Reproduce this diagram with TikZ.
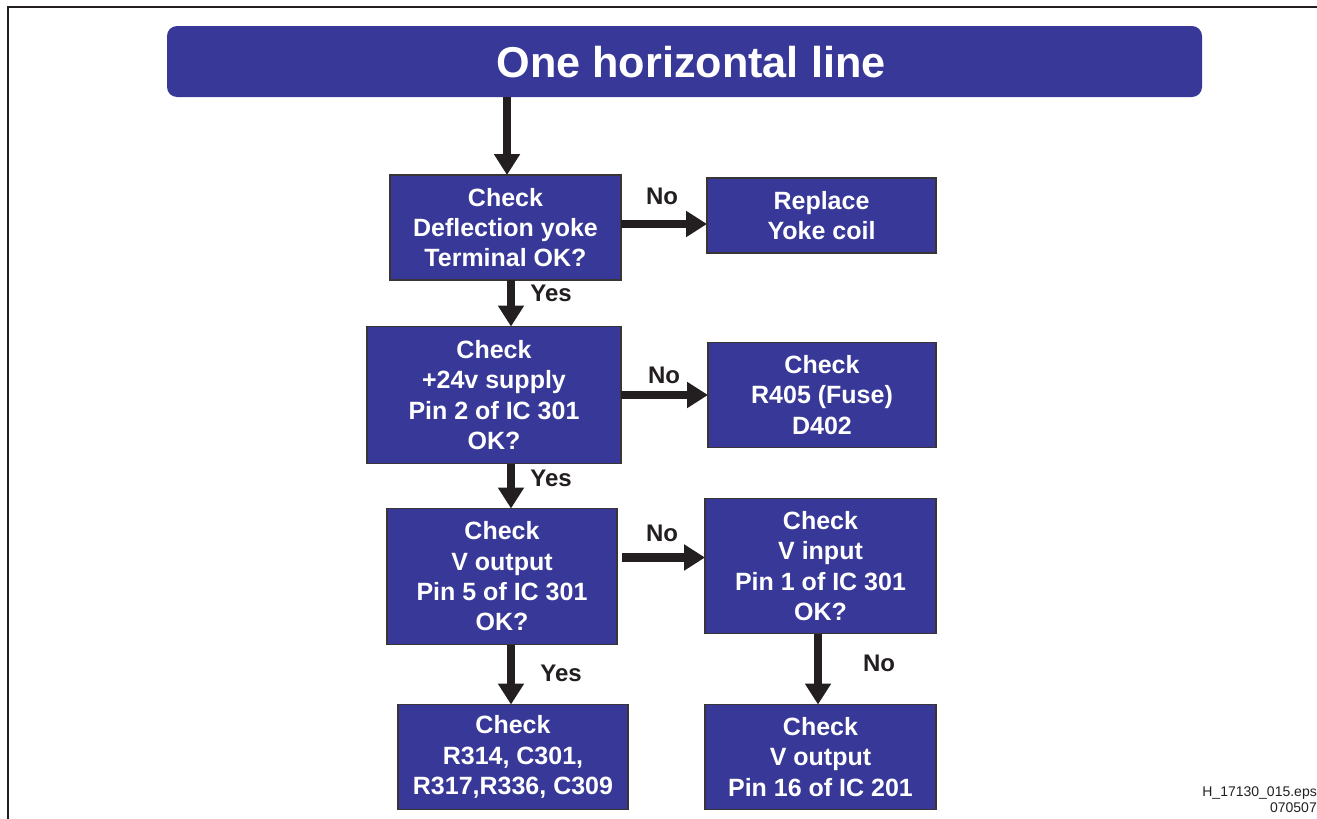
\documentclass[tikz,border=0pt]{standalone}
\usepackage{fontspec}
\setmainfont{Liberation Sans}
\usetikzlibrary{arrows.meta}
\definecolor{boxblue}{HTML}{373897}
\definecolor{ink}{HTML}{231F20}
\begin{document}
\begin{tikzpicture}[x=1pt,y=-1pt,
  box/.style={draw=ink!90,line width=1.5pt,fill=boxblue,text=white,inner sep=0pt,outer sep=0pt,
    align=center,font=\bfseries\fontsize{25}{30.3}\selectfont},
  arr/.style={draw=ink,line width=8.5pt,-{Triangle[width=25pt,length=21pt]}},
  lab/.style={font=\bfseries\fontsize{24}{28}\selectfont,text=ink,inner sep=0pt}]
\useasboundingbox (0,0) rectangle (1317,819);
\draw[ink,line width=2.5pt] (8,819) -- (8,7) -- (1317,7);
\node[fill=boxblue,rounded corners=10pt,minimum width=1035pt,minimum height=71pt,inner sep=0pt] (title) at (684.5,61.5) {};
\node[text=white,font=\bfseries\fontsize{43.2}{50}\selectfont,inner sep=0pt] (tt) at (691,62) {One horizontal line};
\node[box,minimum width=231pt,minimum height=105pt] (b1) at (505.5,227.5) {Check\\Deflection yoke\\Terminal OK?};
\node[box,minimum width=229pt,minimum height=75pt] (r1) at (821.5,215.5) {Replace\\Yoke coil};
\node[box,minimum width=254pt,minimum height=137pt] (b2) at (494,395) {Check\\+24v supply\\Pin 2 of IC 301\\OK?};
\node[box,minimum width=228pt,minimum height=105pt] (r2) at (822,395) {Check\\R405 (Fuse)\\D402};
\node[box,minimum width=230pt,minimum height=136pt] (b3) at (502,576.5) {Check\\V output\\Pin 5 of IC 301\\OK?};
\node[box,minimum width=231pt,minimum height=135pt] (r3) at (820.5,566) {Check\\V input\\Pin 1 of IC 301\\OK?};
\node[box,minimum width=230pt,minimum height=105pt] (b4) at (513,757) {Check\\R314, C301,\\R317,R336, C309};
\node[box,minimum width=231pt,minimum height=105pt] (r4) at (820.5,757) {Check\\V output\\Pin 16 of IC 201};
% connectors
\draw[arr] ([xshift=1.5pt]b1.north |- title.south) -- ([xshift=1.5pt]b1.north);
\draw[arr] ([yshift=3.5pt]b1.east) -- ([yshift=3.5pt]b1.east -| r1.west);
\draw[arr] ([xshift=5.5pt]b1.south) -- ([xshift=5.5pt]b1.south |- b2.north);
\draw[arr] (b2.east) -- (b2.east -| r2.west);
\draw[arr] ([xshift=17pt]b2.south) -- ([xshift=17pt]b2.south |- b3.north);
\draw[arr] ([xshift=5pt,yshift=19pt]b3.east) -- ([yshift=19pt]b3.east -| r3.west);
\draw[arr] ([xshift=-2pt]b4.north |- b3.south) -- ([xshift=-2pt]b4.north);
\draw[arr] ([xshift=-2.5pt]r3.south) -- ([xshift=-2.5pt]r4.north);
% labels
\node[lab] (n1) at (662,196) {No};
\node[lab] (y1) at (551,293) {Yes};
\node[lab] (n2) at (664,375) {No};
\node[lab] (y2) at (551,478) {Yes};
\node[lab] (n3) at (662,533) {No};
\node[lab] (y3) at (561,673) {Yes};
\node[lab] (n4) at (879,663) {No};
\node[anchor=north east,align=right,inner sep=0pt,font=\fontsize{14}{16}\selectfont,text=ink] (fn) at (1317,787)
  {H\_17130\_015.eps\\070507};
\end{tikzpicture}
\end{document}
